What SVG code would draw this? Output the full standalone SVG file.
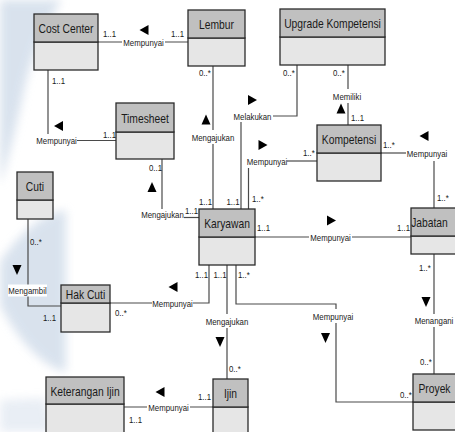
<svg xmlns="http://www.w3.org/2000/svg" width="455" height="432" viewBox="0 0 455 432">
  <defs>
    <style>
      .hd { fill: #c0c0c0; stroke: #2b2b2b; stroke-width: 1.3; }
      .bd { fill: #e6e6e6; stroke: #2b2b2b; stroke-width: 1.3; }
      .nm { font-family: "Liberation Sans", Arial, sans-serif; font-size: 13.2px; fill: #1a1a1a; text-anchor: middle; }
      .lb { font-family: "Liberation Sans", Arial, sans-serif; font-size: 9.8px; fill: #1a1a1a; }
      .c { text-anchor: middle; }
      .ln { fill: none; stroke: #4a4a4a; stroke-width: 1.2; }
      .ar { fill: #000; }
    </style>
    <filter id="soft" x="-30%" y="-30%" width="160%" height="160%">
      <feGaussianBlur stdDeviation="5"/>
    </filter>
    <polygon id="aUp" class="ar" points="0,-5 4.5,5 -4.5,5"/>
    <polygon id="aDown" class="ar" points="-4.5,-5 4.5,-5 0,5"/>
    <polygon id="aLeft" class="ar" points="4.5,-5 -4.5,0 4.5,5"/>
    <polygon id="aRight" class="ar" points="-4.5,-5 4.5,0 -4.5,5"/>
  </defs>

  <rect width="455" height="432" fill="#ffffff"/>

  <!-- faint backdrop swirl on the left -->
  <g id="backdrop" fill="#d3deeb" filter="url(#soft)" opacity="0.85">
    <path d="M0,0 L62,0 C46,22 32,52 22,100 C15,132 8,160 0,185 Z"/>
    <path d="M0,262 C18,235 40,214 66,210 L66,372 C46,368 20,345 0,305 Z"/>
    <path d="M0,400 L45,398 L52,432 L0,432 Z" opacity="0.6"/>
  </g>

  <!-- connectors (all texts use a condensed horizontal scale) -->
  <g id="connectors">
    <!-- Cost Center - Lembur -->
    <path class="ln" d="M98,42 H122 M165,42 H188"/>
    <text class="lb c" transform="translate(143.5,46) scale(0.8,1)">Mempunyai</text>
    <text class="lb" transform="translate(103,37) scale(0.8,1)">1..1</text>
    <text class="lb" transform="translate(171,37) scale(0.8,1)">1..1</text>
    <use href="#aLeft" x="144" y="30"/>

    <!-- Cost Center - Timesheet -->
    <path class="ln" d="M48,70 V134"/>
    <path class="ln" d="M77,140.5 H116"/>
    <text class="lb c" transform="translate(56.5,144) scale(0.8,1)">Mempunyai</text>
    <text class="lb" transform="translate(52,84) scale(0.8,1)">1..1</text>
    <text class="lb" transform="translate(103,138) scale(0.8,1)">1..1</text>
    <use href="#aLeft" x="58.5" y="126"/>

    <!-- Timesheet - Karyawan -->
    <path class="ln" d="M162,159 V209"/>
    <path class="ln" d="M184,217.5 H199"/>
    <text class="lb c" transform="translate(162.5,217.5) scale(0.8,1)">Mengajukan</text>
    <text class="lb" transform="translate(185,214) scale(0.8,1)">1..1</text>
    <text class="lb" transform="translate(149,171) scale(0.8,1)">0..1</text>
    <use href="#aUp" x="152" y="187"/>

    <!-- Lembur - Karyawan -->
    <path class="ln" d="M213,66 V130 M213,144 V209"/>
    <text class="lb c" transform="translate(213,140.5) scale(0.8,1)">Mengajukan</text>
    <text class="lb" transform="translate(199,76) scale(0.8,1)">0..*</text>
    <text class="lb" transform="translate(199,205) scale(0.8,1)">1..1</text>
    <use href="#aUp" x="206" y="119.5"/>

    <!-- Upgrade Kompetensi - Karyawan -->
    <path class="ln" d="M297,65 V116 H273"/>
    <path class="ln" d="M241,122 V209"/>
    <text class="lb c" transform="translate(252.5,119.5) scale(0.8,1)">Melakukan</text>
    <text class="lb" transform="translate(283,76) scale(0.8,1)">0..*</text>
    <text class="lb" transform="translate(226.5,205) scale(0.8,1)">1..1</text>
    <use href="#aRight" x="252.5" y="100"/>

    <!-- Karyawan - Kompetensi -->
    <path class="ln" d="M248.5,209 V168"/>
    <path class="ln" d="M287,161 H317"/>
    <text class="lb c" transform="translate(267,164.5) scale(0.8,1)">Mempunyai</text>
    <text class="lb" transform="translate(303,156) scale(0.8,1)">1..*</text>
    <text class="lb" transform="translate(252,202) scale(0.8,1)">1..*</text>
    <use href="#aRight" x="263" y="145"/>

    <!-- Upgrade Kompetensi - Kompetensi -->
    <path class="ln" d="M348,65 V89 M348,103 V125"/>
    <text class="lb c" transform="translate(347,99.5) scale(0.8,1)">Memiliki</text>
    <text class="lb" transform="translate(333,76) scale(0.8,1)">0..*</text>
    <text class="lb" transform="translate(351,121) scale(0.8,1)">1..1</text>
    <use href="#aUp" x="341" y="108.5"/>

    <!-- Kompetensi - Jabatan -->
    <path class="ln" d="M381,153 H406"/>
    <path class="ln" d="M434,161 V208"/>
    <text class="lb c" transform="translate(427,156.5) scale(0.8,1)">Mempunyai</text>
    <text class="lb" transform="translate(383,148) scale(0.8,1)">1..*</text>
    <text class="lb" transform="translate(437,201) scale(0.8,1)">1..*</text>
    <use href="#aLeft" x="424" y="136"/>

    <!-- Karyawan - Jabatan -->
    <path class="ln" d="M255,237 H309 M352,237 H411"/>
    <text class="lb c" transform="translate(330.5,240.5) scale(0.8,1)">Mempunyai</text>
    <text class="lb" transform="translate(257,231) scale(0.8,1)">1..1</text>
    <text class="lb" transform="translate(397,231) scale(0.8,1)">1..1</text>
    <use href="#aRight" x="331.5" y="220.5"/>

    <!-- Jabatan - Proyek -->
    <path class="ln" d="M434,254 V314 M434,327 V374"/>
    <text class="lb c" transform="translate(434,323.5) scale(0.8,1)">Menangani</text>
    <text class="lb" transform="translate(419,271) scale(0.8,1)">1..*</text>
    <text class="lb" transform="translate(420,365) scale(0.8,1)">0..*</text>
    <use href="#aDown" x="426" y="302"/>

    <!-- Karyawan - Hak Cuti -->
    <path class="ln" d="M209,265 V303 H193 M152,303 H110"/>
    <text class="lb c" transform="translate(172.5,306.5) scale(0.8,1)">Mempunyai</text>
    <text class="lb" transform="translate(195,278) scale(0.8,1)">1..1</text>
    <text class="lb" transform="translate(115,316) scale(0.8,1)">0..*</text>
    <use href="#aLeft" x="173" y="287"/>

    <!-- Karyawan - Ijin -->
    <path class="ln" d="M227,265 V314 M227,328 V379"/>
    <text class="lb c" transform="translate(227,324.5) scale(0.8,1)">Mengajukan</text>
    <text class="lb" transform="translate(213.5,278) scale(0.8,1)">1..1</text>
    <text class="lb" transform="translate(229,372) scale(0.8,1)">0..*</text>
    <use href="#aDown" x="220" y="342"/>

    <!-- Karyawan - Proyek -->
    <path class="ln" d="M236,265 V304 H336 V309 M336,323 V402 H413"/>
    <text class="lb c" transform="translate(333,319.5) scale(0.8,1)">Mempunyai</text>
    <text class="lb" transform="translate(238,278) scale(0.8,1)">1..*</text>
    <text class="lb" transform="translate(400,398) scale(0.8,1)">0..*</text>
    <use href="#aDown" x="325.5" y="338"/>

    <!-- Cuti - Hak Cuti -->
    <path class="ln" d="M28,219 V306 H61"/>
    <rect x="8" y="284.5" width="39" height="12" fill="#ffffff"/>
    <text class="lb c" transform="translate(27.5,294) scale(0.8,1)">Mengambil</text>
    <text class="lb" transform="translate(30,245) scale(0.8,1)">0..*</text>
    <text class="lb" transform="translate(43,321) scale(0.8,1)">1..1</text>
    <use href="#aDown" x="17" y="270"/>

    <!-- Ijin - Keterangan Ijin -->
    <path class="ln" d="M124,407 H147 M190,407 H213"/>
    <text class="lb c" transform="translate(168.5,410.5) scale(0.8,1)">Mempunyai</text>
    <text class="lb" transform="translate(198,400) scale(0.8,1)">1..1</text>
    <text class="lb" transform="translate(129,423) scale(0.8,1)">1..1</text>
    <use href="#aLeft" x="160" y="392"/>
  </g>

  <!-- classes -->
  <g id="cost-center">
    <rect class="bd" x="34" y="42" width="64" height="28"/>
    <rect class="hd" x="34" y="14" width="64" height="28"/>
    <text class="nm" transform="translate(66,33) scale(0.78,1)">Cost Center</text>
  </g>
  <g id="lembur">
    <rect class="bd" x="188" y="38" width="57" height="28"/>
    <rect class="hd" x="188" y="10" width="57" height="28"/>
    <text class="nm" transform="translate(216.5,29) scale(0.78,1)">Lembur</text>
  </g>
  <g id="upgrade-kompetensi">
    <rect class="bd" x="280" y="37" width="105" height="28"/>
    <rect class="hd" x="280" y="9" width="105" height="28"/>
    <text class="nm" transform="translate(332.5,28) scale(0.78,1)">Upgrade Kompetensi</text>
  </g>
  <g id="timesheet">
    <rect class="bd" x="116" y="132" width="58" height="27"/>
    <rect class="hd" x="116" y="103" width="58" height="29"/>
    <text class="nm" transform="translate(145,122.5) scale(0.78,1)">Timesheet</text>
  </g>
  <g id="kompetensi">
    <rect class="bd" x="317" y="153" width="64" height="28"/>
    <rect class="hd" x="317" y="125" width="64" height="28"/>
    <text class="nm" transform="translate(349,144) scale(0.78,1)">Kompetensi</text>
  </g>
  <g id="cuti">
    <rect class="bd" x="17" y="200" width="36" height="19"/>
    <rect class="hd" x="17" y="172" width="36" height="28"/>
    <text class="nm" transform="translate(35,191) scale(0.78,1)">Cuti</text>
  </g>
  <g id="karyawan">
    <rect class="bd" x="199" y="237" width="56" height="28"/>
    <rect class="hd" x="199" y="209" width="56" height="28"/>
    <text class="nm" transform="translate(227,228) scale(0.78,1)">Karyawan</text>
  </g>
  <g id="jabatan">
    <rect class="bd" x="411" y="236" width="50" height="18"/>
    <rect class="hd" x="411" y="208" width="50" height="28"/>
    <text class="nm" transform="translate(429.5,227) scale(0.78,1)">Jabatan</text>
  </g>
  <g id="hak-cuti">
    <rect class="bd" x="61" y="303" width="49" height="29"/>
    <rect class="hd" x="61" y="285" width="49" height="18"/>
    <text class="nm" transform="translate(85.5,298.5) scale(0.78,1)">Hak Cuti</text>
  </g>
  <g id="keterangan-ijin">
    <rect class="bd" x="46" y="404" width="78" height="36"/>
    <rect class="hd" x="46" y="377" width="78" height="27"/>
    <text class="nm" transform="translate(85,395.5) scale(0.78,1)">Keterangan Ijin</text>
  </g>
  <g id="ijin">
    <rect class="bd" x="213" y="407" width="35" height="33"/>
    <rect class="hd" x="213" y="379" width="35" height="28"/>
    <text class="nm" transform="translate(230.5,398) scale(0.78,1)">Ijin</text>
  </g>
  <g id="proyek">
    <rect class="bd" x="413" y="402" width="50" height="28"/>
    <rect class="hd" x="413" y="374" width="50" height="28"/>
    <text class="nm" transform="translate(434.5,393) scale(0.78,1)">Proyek</text>
  </g>
</svg>
